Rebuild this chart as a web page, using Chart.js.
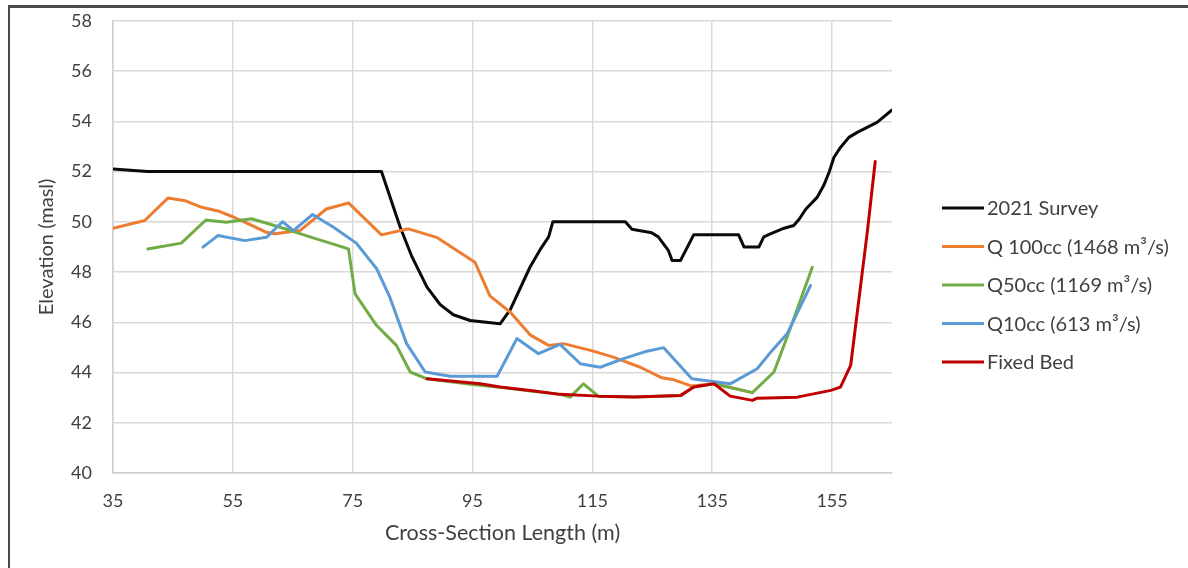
<!DOCTYPE html>
<html>
<head>
<meta charset="utf-8">
<script src="https://cdn.jsdelivr.net/npm/chart.js@4"></script>
<style>
  html, body { margin: 0; padding: 0; background: #fff; overflow: hidden; }
  #wrap { position: relative; width: 1188px; height: 568px; overflow: hidden; }
  #frame { position: absolute; left: 8px; top: 5px; right: -10px; bottom: -10px;
           border-top: 3px solid #4a4a4a; border-left: 2px solid #4a4a4a; pointer-events: none; }
  canvas { position: absolute; left: 0; top: -11px; }
</style>
</head>
<body>
<div id="wrap">
  <canvas id="c" width="1188" height="579"></canvas>
  <div id="frame"></div>
</div>
<script>
// Cross-section elevations (m above sea level) against distance along the section (m)
const surveyX = [35, 40.8, 79.8, 82.9, 84.9, 87.4, 89.6, 91.8, 94.6, 99.6, 101.3, 104.6, 106.3, 107.7, 108.4, 120.5, 121.6, 124.9, 126.0, 127.7, 128.3, 129.7, 131.9, 139.4, 140.3, 142.8, 143.6, 144.7, 146.7, 148.6, 149.5, 150.6, 152.5, 153.6, 154.5, 155.3, 156.4, 157.8, 159.2, 162.5, 165];
const surveyY = [52.1, 52.0, 52.0, 49.8, 48.6, 47.4, 46.7, 46.3, 46.07, 45.94, 46.5, 48.2, 48.9, 49.4, 50.0, 50.0, 49.7, 49.56, 49.4, 48.85, 48.46, 48.46, 49.48, 49.48, 49.0, 49.0, 49.4, 49.52, 49.72, 49.85, 50.1, 50.5, 50.97, 51.44, 51.97, 52.56, 52.96, 53.36, 53.56, 53.96, 54.45];

const q100X = [35, 40.3, 44.2, 47.0, 49.5, 52.5, 55.0, 57.8, 60.6, 62.0, 66.2, 70.6, 74.3, 79.8, 84.3, 89.0, 95.4, 97.9, 101.3, 104.6, 107.7, 110.2, 114.7, 118.5, 123.0, 126.6, 128.6, 131.6, 135.3, 141.7];
const q100Y = [49.74, 50.05, 50.95, 50.84, 50.6, 50.43, 50.2, 49.9, 49.58, 49.52, 49.65, 50.51, 50.75, 49.48, 49.72, 49.38, 48.39, 47.05, 46.4, 45.5, 45.08, 45.15, 44.88, 44.61, 44.21, 43.79, 43.71, 43.46, 43.55, 43.2];

const q50X = [40.8, 46.4, 50.5, 53.9, 58.1, 62.9, 68.4, 74.3, 75.4, 79.0, 82.3, 84.6, 87.4, 95, 100, 105, 109.6, 111.3, 113.5, 116.0, 122, 129.7, 131.9, 135.3, 141.7, 145.3, 147.5, 151.7];
const q50Y = [48.92, 49.15, 50.07, 49.98, 50.12, 49.78, 49.36, 48.92, 47.13, 45.87, 45.08, 44.02, 43.75, 43.52, 43.4, 43.25, 43.13, 43.02, 43.55, 43.06, 43.03, 43.08, 43.42, 43.55, 43.2, 44.02, 45.41, 48.19];

const q10X = [50.0, 52.5, 57.0, 60.6, 63.3, 65.1, 68.3, 71.8, 75.6, 79.0, 81.2, 84.0, 87.1, 91.3, 99.1, 102.4, 106.0, 109.6, 113.0, 116.3, 120.2, 124.1, 126.9, 131.6, 138.0, 142.5, 145.0, 147.5, 151.4];
const q10Y = [48.99, 49.45, 49.25, 49.38, 50.0, 49.65, 50.29, 49.78, 49.15, 48.13, 47.0, 45.15, 44.02, 43.85, 43.85, 45.35, 44.75, 45.12, 44.35, 44.21, 44.55, 44.85, 44.99, 43.75, 43.55, 44.15, 44.88, 45.54, 47.46];

const bedX = [87.4, 96.3, 99.6, 105, 109.6, 116.0, 122, 129.7, 131.9, 135.3, 138.0, 141.7, 142.5, 149.2, 154.8, 156.4, 158.1, 160.9, 162.2];
const bedY = [43.75, 43.55, 43.42, 43.27, 43.13, 43.06, 43.03, 43.08, 43.42, 43.55, 43.06, 42.89, 42.98, 43.02, 43.29, 43.42, 44.28, 49.64, 52.4];

const seriesNames = ['2021 Survey', 'Q 100cc (1468 m\u00B3/s)', 'Q50cc (1169 m\u00B3/s)', 'Q10cc (613 m\u00B3/s)', 'Fixed Bed'];
const seriesColors = ['#0a0a0a', '#ED7D31', '#70AD47', '#5B9BD5', '#C00000'];

const xTicks = [35, 55, 75, 95, 115, 135, 155];
const yTicks = [40, 42, 44, 46, 48, 50, 52, 54, 56, 58];

const FONT = 'Lato, "Open Sans", sans-serif';
const TEXT = '#404040';

function pts(xs, ys) { return xs.map((x, i) => ({ x: x, y: ys[i] })); }

const seriesData = [pts(surveyX, surveyY), pts(q100X, q100Y), pts(q50X, q50Y), pts(q10X, q10Y), pts(bedX, bedY)];

// Later series are painted over earlier ones (spreadsheet style)
const datasets = seriesData.map((d, i) => ({
  label: seriesNames[i],
  data: d,
  borderColor: seriesColors[i],
  backgroundColor: seriesColors[i],
  borderWidth: 3,
  pointRadius: 0,
  showLine: true,
  tension: 0,
  borderJoinStyle: 'round',
  borderCapStyle: 'round',
  order: seriesData.length - i
}));

// Legend on the right: short line swatch followed by the series name
const sideLegend = {
  id: 'sideLegend',
  afterDraw(chart) {
    const ctx = chart.ctx;
    const top = 219, step = 38.5, x0 = 942, len = 42;
    ctx.save();
    ctx.font = '20px ' + FONT;
    ctx.textBaseline = 'middle';
    ctx.textAlign = 'left';
    chart.data.datasets.forEach((ds, i) => {
      const y = top + i * step;
      ctx.strokeStyle = ds.borderColor;
      ctx.lineWidth = 3;
      ctx.beginPath();
      ctx.moveTo(x0, y);
      ctx.lineTo(x0 + len, y);
      ctx.stroke();
      ctx.fillStyle = TEXT;
      ctx.fillText(ds.label, x0 + len + 3, y + 1);
    });
    ctx.restore();
  }
};

new Chart(document.getElementById('c'), {
  type: 'scatter',
  data: { datasets: datasets },
  plugins: [sideLegend],
  options: {
    responsive: false,
    animation: false,
    layout: { padding: { top: 9, right: 296, left: 0, bottom: 0 } },
    plugins: { legend: { display: false }, tooltip: { enabled: false } },
    scales: {
      x: {
        type: 'linear',
        min: 35, max: 165,
        afterBuildTicks: s => { s.ticks = xTicks.map(v => ({ value: v })); },
        afterFit: s => { s.height = 95; },
        grid: { color: '#d9d9d9', lineWidth: 1.5, drawTicks: false },
        border: { color: '#cfcfcf', width: 1.5 },
        ticks: { padding: 17, color: TEXT, font: { family: FONT, size: 18 } },
        title: { display: true, text: 'Cross-Section Length (m)', color: TEXT,
                 font: { family: FONT, size: 21.5 }, padding: { top: 0, bottom: 22 } }
      },
      y: {
        type: 'linear',
        min: 40, max: 58,
        afterBuildTicks: s => { s.ticks = yTicks.map(v => ({ value: v })); },
        afterFit: s => { s.width = 113; },
        grid: { color: '#d9d9d9', lineWidth: 1.5, drawTicks: false },
        border: { color: '#cfcfcf', width: 1.5 },
        ticks: { padding: 21, color: TEXT, font: { family: FONT, size: 18 } },
        title: { display: true, text: 'Elevation (masl)', color: TEXT,
                 font: { family: FONT, size: 20 }, padding: { top: 35, bottom: 0 } }
      }
    }
  }
});
</script>
</body>
</html>
